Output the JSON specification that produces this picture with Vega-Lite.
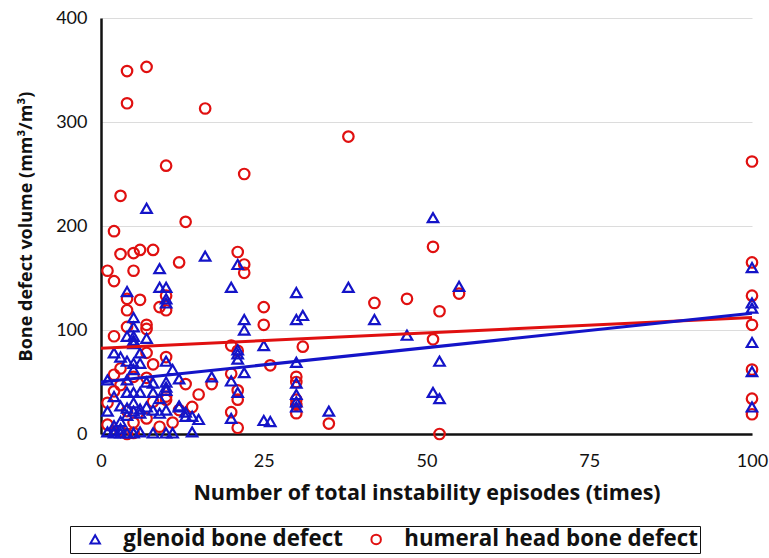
{
  "$schema": "https://vega.github.io/schema/vega-lite/v6.json",
  "width": 651,
  "height": 416,
  "autosize": {"type": "none"},
  "padding": {"left": 101, "top": 18, "right": 17, "bottom": 124},
  "background": "white",
  "config": {
    "font": "Lato",
    "view": {"stroke": null},
    "axis": {"labelFont": "Lato", "titleFont": "Open Sans", "labelColor": "#111", "titleColor": "#111"},
    "legend": {"labelFont": "Open Sans"}
  },
  "datasets": {
    "pts": [
      {"s": "humeral head bone defect", "x": 4, "y": 349}, {"s": "humeral head bone defect", "x": 7, "y": 353}, {"s": "humeral head bone defect", "x": 4, "y": 318}, {"s": "humeral head bone defect", "x": 16, "y": 313}, {"s": "humeral head bone defect", "x": 38, "y": 286}, {"s": "humeral head bone defect", "x": 10, "y": 258}, {"s": "humeral head bone defect", "x": 22, "y": 250}, {"s": "humeral head bone defect", "x": 3, "y": 229}, {"s": "humeral head bone defect", "x": 13, "y": 204}, {"s": "humeral head bone defect", "x": 2, "y": 195}, {"s": "humeral head bone defect", "x": 100, "y": 262}, {"s": "humeral head bone defect", "x": 3, "y": 173}, {"s": "humeral head bone defect", "x": 5, "y": 174}, {"s": "humeral head bone defect", "x": 6, "y": 177}, {"s": "humeral head bone defect", "x": 8, "y": 177}, {"s": "humeral head bone defect", "x": 21, "y": 175}, {"s": "humeral head bone defect", "x": 51, "y": 180}, {"s": "humeral head bone defect", "x": 12, "y": 165}, {"s": "humeral head bone defect", "x": 22, "y": 163}, {"s": "humeral head bone defect", "x": 22, "y": 155}, {"s": "humeral head bone defect", "x": 1, "y": 157}, {"s": "humeral head bone defect", "x": 5, "y": 157}, {"s": "humeral head bone defect", "x": 2, "y": 147}, {"s": "humeral head bone defect", "x": 100, "y": 165}, {"s": "humeral head bone defect", "x": 55, "y": 135}, {"s": "humeral head bone defect", "x": 47, "y": 130}, {"s": "humeral head bone defect", "x": 4, "y": 130}, {"s": "humeral head bone defect", "x": 6, "y": 129}, {"s": "humeral head bone defect", "x": 10, "y": 133}, {"s": "humeral head bone defect", "x": 100, "y": 133}, {"s": "humeral head bone defect", "x": 42, "y": 126}, {"s": "humeral head bone defect", "x": 25, "y": 122}, {"s": "humeral head bone defect", "x": 9, "y": 122}, {"s": "humeral head bone defect", "x": 10, "y": 119}, {"s": "humeral head bone defect", "x": 4, "y": 119}, {"s": "humeral head bone defect", "x": 52, "y": 118}, {"s": "humeral head bone defect", "x": 25, "y": 105}, {"s": "humeral head bone defect", "x": 100, "y": 105}, {"s": "humeral head bone defect", "x": 4, "y": 103}, {"s": "humeral head bone defect", "x": 7, "y": 105}, {"s": "humeral head bone defect", "x": 7, "y": 101}, {"s": "humeral head bone defect", "x": 51, "y": 91}, {"s": "humeral head bone defect", "x": 2, "y": 94}, {"s": "humeral head bone defect", "x": 20, "y": 85}, {"s": "humeral head bone defect", "x": 31, "y": 84}, {"s": "humeral head bone defect", "x": 7, "y": 78}, {"s": "humeral head bone defect", "x": 10, "y": 74}, {"s": "humeral head bone defect", "x": 21, "y": 80}, {"s": "humeral head bone defect", "x": 26, "y": 66}, {"s": "humeral head bone defect", "x": 8, "y": 67}, {"s": "humeral head bone defect", "x": 3, "y": 63}, {"s": "humeral head bone defect", "x": 100, "y": 62}, {"s": "humeral head bone defect", "x": 2, "y": 57}, {"s": "humeral head bone defect", "x": 5, "y": 55}, {"s": "humeral head bone defect", "x": 7, "y": 54}, {"s": "humeral head bone defect", "x": 20, "y": 58}, {"s": "humeral head bone defect", "x": 17, "y": 48}, {"s": "humeral head bone defect", "x": 13, "y": 48}, {"s": "humeral head bone defect", "x": 30, "y": 55}, {"s": "humeral head bone defect", "x": 30, "y": 50}, {"s": "humeral head bone defect", "x": 21, "y": 42}, {"s": "humeral head bone defect", "x": 15, "y": 38}, {"s": "humeral head bone defect", "x": 2, "y": 41}, {"s": "humeral head bone defect", "x": 8, "y": 31}, {"s": "humeral head bone defect", "x": 10, "y": 36}, {"s": "humeral head bone defect", "x": 10, "y": 33}, {"s": "humeral head bone defect", "x": 21, "y": 33}, {"s": "humeral head bone defect", "x": 30, "y": 33}, {"s": "humeral head bone defect", "x": 30, "y": 28}, {"s": "humeral head bone defect", "x": 30, "y": 20}, {"s": "humeral head bone defect", "x": 14, "y": 26}, {"s": "humeral head bone defect", "x": 20, "y": 21}, {"s": "humeral head bone defect", "x": 35, "y": 10}, {"s": "humeral head bone defect", "x": 100, "y": 34}, {"s": "humeral head bone defect", "x": 100, "y": 19}, {"s": "humeral head bone defect", "x": 11, "y": 11}, {"s": "humeral head bone defect", "x": 7, "y": 15}, {"s": "humeral head bone defect", "x": 5, "y": 11}, {"s": "humeral head bone defect", "x": 1, "y": 9}, {"s": "humeral head bone defect", "x": 21, "y": 6}, {"s": "humeral head bone defect", "x": 52, "y": 0}, {"s": "humeral head bone defect", "x": 3, "y": 3}, {"s": "humeral head bone defect", "x": 4, "y": 0}, {"s": "humeral head bone defect", "x": 5, "y": 1}, {"s": "humeral head bone defect", "x": 3, "y": 47}, {"s": "humeral head bone defect", "x": 1, "y": 30}, {"s": "humeral head bone defect", "x": 4, "y": 22}, {"s": "humeral head bone defect", "x": 12, "y": 23}, {"s": "humeral head bone defect", "x": 9, "y": 7},
      {"s": "glenoid bone defect", "x": 7, "y": 217}, {"s": "glenoid bone defect", "x": 16, "y": 171}, {"s": "glenoid bone defect", "x": 21, "y": 163}, {"s": "glenoid bone defect", "x": 20, "y": 141}, {"s": "glenoid bone defect", "x": 9, "y": 159}, {"s": "glenoid bone defect", "x": 4, "y": 137}, {"s": "glenoid bone defect", "x": 9, "y": 141}, {"s": "glenoid bone defect", "x": 10, "y": 141}, {"s": "glenoid bone defect", "x": 10, "y": 130}, {"s": "glenoid bone defect", "x": 10, "y": 126}, {"s": "glenoid bone defect", "x": 30, "y": 136}, {"s": "glenoid bone defect", "x": 38, "y": 141}, {"s": "glenoid bone defect", "x": 51, "y": 208}, {"s": "glenoid bone defect", "x": 55, "y": 142}, {"s": "glenoid bone defect", "x": 100, "y": 160}, {"s": "glenoid bone defect", "x": 100, "y": 126}, {"s": "glenoid bone defect", "x": 100, "y": 121}, {"s": "glenoid bone defect", "x": 100, "y": 88}, {"s": "glenoid bone defect", "x": 100, "y": 60}, {"s": "glenoid bone defect", "x": 100, "y": 26},
      {"s": "glenoid bone defect", "x": 22, "y": 110}, {"s": "glenoid bone defect", "x": 22, "y": 100}, {"s": "glenoid bone defect", "x": 31, "y": 114}, {"s": "glenoid bone defect", "x": 30, "y": 110}, {"s": "glenoid bone defect", "x": 42, "y": 110}, {"s": "glenoid bone defect", "x": 5, "y": 112}, {"s": "glenoid bone defect", "x": 5, "y": 103}, {"s": "glenoid bone defect", "x": 47, "y": 95}, {"s": "glenoid bone defect", "x": 25, "y": 85}, {"s": "glenoid bone defect", "x": 21, "y": 81}, {"s": "glenoid bone defect", "x": 21, "y": 77}, {"s": "glenoid bone defect", "x": 21, "y": 72}, {"s": "glenoid bone defect", "x": 52, "y": 70}, {"s": "glenoid bone defect", "x": 30, "y": 69}, {"s": "glenoid bone defect", "x": 22, "y": 59}, {"s": "glenoid bone defect", "x": 17, "y": 55}, {"s": "glenoid bone defect", "x": 20, "y": 51}, {"s": "glenoid bone defect", "x": 12, "y": 53}, {"s": "glenoid bone defect", "x": 30, "y": 49}, {"s": "glenoid bone defect", "x": 21, "y": 40}, {"s": "glenoid bone defect", "x": 30, "y": 38}, {"s": "glenoid bone defect", "x": 30, "y": 31}, {"s": "glenoid bone defect", "x": 30, "y": 26}, {"s": "glenoid bone defect", "x": 51, "y": 40}, {"s": "glenoid bone defect", "x": 52, "y": 34}, {"s": "glenoid bone defect", "x": 12, "y": 27}, {"s": "glenoid bone defect", "x": 13, "y": 21}, {"s": "glenoid bone defect", "x": 13, "y": 17}, {"s": "glenoid bone defect", "x": 15, "y": 14}, {"s": "glenoid bone defect", "x": 20, "y": 15}, {"s": "glenoid bone defect", "x": 25, "y": 13}, {"s": "glenoid bone defect", "x": 26, "y": 12}, {"s": "glenoid bone defect", "x": 35, "y": 22}, {"s": "glenoid bone defect", "x": 14, "y": 2},
      {"s": "glenoid bone defect", "x": 4, "y": 94}, {"s": "glenoid bone defect", "x": 5, "y": 90}, {"s": "glenoid bone defect", "x": 5, "y": 94}, {"s": "glenoid bone defect", "x": 7, "y": 92}, {"s": "glenoid bone defect", "x": 5, "y": 87}, {"s": "glenoid bone defect", "x": 2, "y": 78}, {"s": "glenoid bone defect", "x": 3, "y": 74}, {"s": "glenoid bone defect", "x": 6, "y": 78}, {"s": "glenoid bone defect", "x": 10, "y": 70}, {"s": "glenoid bone defect", "x": 4, "y": 70}, {"s": "glenoid bone defect", "x": 5, "y": 68}, {"s": "glenoid bone defect", "x": 6, "y": 68}, {"s": "glenoid bone defect", "x": 11, "y": 62}, {"s": "glenoid bone defect", "x": 5, "y": 62}, {"s": "glenoid bone defect", "x": 1, "y": 52}, {"s": "glenoid bone defect", "x": 4, "y": 52}, {"s": "glenoid bone defect", "x": 7, "y": 50}, {"s": "glenoid bone defect", "x": 8, "y": 49}, {"s": "glenoid bone defect", "x": 10, "y": 50}, {"s": "glenoid bone defect", "x": 10, "y": 45}, {"s": "glenoid bone defect", "x": 10, "y": 42}, {"s": "glenoid bone defect", "x": 2, "y": 36}, {"s": "glenoid bone defect", "x": 4, "y": 40}, {"s": "glenoid bone defect", "x": 5, "y": 40}, {"s": "glenoid bone defect", "x": 6, "y": 40}, {"s": "glenoid bone defect", "x": 9, "y": 34}, {"s": "glenoid bone defect", "x": 1, "y": 22}, {"s": "glenoid bone defect", "x": 3, "y": 27}, {"s": "glenoid bone defect", "x": 4, "y": 25}, {"s": "glenoid bone defect", "x": 5, "y": 22}, {"s": "glenoid bone defect", "x": 6, "y": 24}, {"s": "glenoid bone defect", "x": 7, "y": 26}, {"s": "glenoid bone defect", "x": 8, "y": 23}, {"s": "glenoid bone defect", "x": 10, "y": 23}, {"s": "glenoid bone defect", "x": 12, "y": 26}, {"s": "glenoid bone defect", "x": 14, "y": 17}, {"s": "glenoid bone defect", "x": 2, "y": 8}, {"s": "glenoid bone defect", "x": 2, "y": 3}, {"s": "glenoid bone defect", "x": 3, "y": 1}, {"s": "glenoid bone defect", "x": 5, "y": 1}, {"s": "glenoid bone defect", "x": 8, "y": 1}, {"s": "glenoid bone defect", "x": 10, "y": 1}, {"s": "glenoid bone defect", "x": 11, "y": 1}, {"s": "glenoid bone defect", "x": 3, "y": 5}, {"s": "glenoid bone defect", "x": 4, "y": 18}, {"s": "glenoid bone defect", "x": 6, "y": 20}, {"s": "glenoid bone defect", "x": 9, "y": 20}, {"s": "glenoid bone defect", "x": 2, "y": 1}, {"s": "glenoid bone defect", "x": 4, "y": 1}, {"s": "glenoid bone defect", "x": 6, "y": 2}, {"s": "glenoid bone defect", "x": 3, "y": 12}, {"s": "glenoid bone defect", "x": 5, "y": 30}, {"s": "glenoid bone defect", "x": 8, "y": 40}, {"s": "glenoid bone defect", "x": 1, "y": 2}
    ],
    "trend": [
      {"s": "humeral head bone defect", "x": 0, "y": 82.5},
      {"s": "humeral head bone defect", "x": 100, "y": 112},
      {"s": "glenoid bone defect", "x": 0, "y": 50},
      {"s": "glenoid bone defect", "x": 100, "y": 116}
    ]
  },
  "layer": [
    {
      "data": {"name": "pts"},
      "mark": {"type": "point", "filled": false, "strokeWidth": 2.2, "size": 110, "opacity": 1},
      "encoding": {
        "x": {
          "field": "x", "type": "quantitative",
          "scale": {"domain": [0, 100], "nice": false},
          "axis": {
            "values": [0, 25, 50, 75, 100], "grid": false, "ticks": false,
            "domainColor": "#111", "domainWidth": 2.5,
            "labelFontSize": 18, "labelPadding": 18, "labelFlush": false,
            "title": "Number of total instability episodes (times)",
            "titleFontSize": 21.5, "titleFontWeight": "bold", "titlePadding": 12
          }
        },
        "y": {
          "field": "y", "type": "quantitative",
          "scale": {"domain": [0, 400], "nice": false},
          "axis": {
            "values": [0, 100, 200, 300, 400], "grid": true, "gridColor": "#dcdcdc", "gridWidth": 1,
            "ticks": false, "domainColor": "#111", "domainWidth": 2.5,
            "labelFontSize": 18, "labelPadding": 14,
            "title": "Bone defect volume (mm³/m³)",
            "titleFontSize": 18, "titleFontWeight": "bold", "titlePadding": 20
          }
        },
        "color": {
          "field": "s", "type": "nominal",
          "scale": {"domain": ["glenoid bone defect", "humeral head bone defect"], "range": ["#1414c8", "#e01010"]},
          "legend": {
            "title": null, "orient": "none", "legendX": -31, "legendY": 508, "direction": "horizontal",
            "strokeColor": "#111", "padding": 2, "labelLimit": 500,
            "labelFontSize": 22.3, "labelFontWeight": "bold", "labelColor": "#111", "labelOffset": 17,
            "symbolSize": 90, "symbolStrokeWidth": 2, "columnPadding": 10, "symbolOffset": 12
          }
        },
        "shape": {
          "field": "s", "type": "nominal",
          "scale": {"domain": ["glenoid bone defect", "humeral head bone defect"], "range": ["triangle-up", "circle"]}
        }
      }
    },
    {
      "data": {"name": "trend"},
      "mark": {"type": "line", "strokeWidth": 3},
      "encoding": {
        "x": {"field": "x", "type": "quantitative"},
        "y": {"field": "y", "type": "quantitative"},
        "detail": {"field": "s"},
        "stroke": {
          "condition": {"test": "datum.s === 'glenoid bone defect'", "value": "#1414c8"},
          "value": "#e01010"
        }
      }
    }
  ]
}
